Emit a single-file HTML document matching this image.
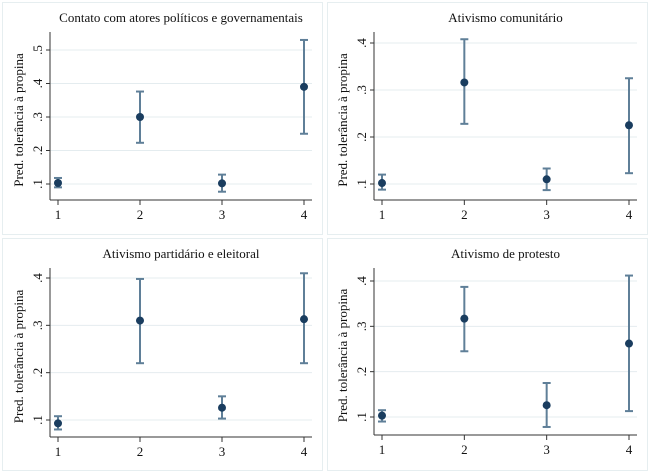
<!DOCTYPE html>
<html><head><meta charset="utf-8"><style>
body{margin:0;background:#fff}
svg{display:block;font-family:"Liberation Serif",serif}
</style></head><body>
<svg id="c" width="650" height="473"></svg>
<script>
const titles=["Contato com atores políticos e governamentais","Ativismo comunitário","Ativismo partidário e eleitoral","Ativismo de protesto"];
const categories=[1,2,3,4];
const est0=[0.103,0.300,0.102,0.390], lo0=[0.090,0.223,0.077,0.250], hi0=[0.118,0.376,0.128,0.530];
const est1=[0.102,0.316,0.110,0.225], lo1=[0.088,0.228,0.087,0.123], hi1=[0.120,0.408,0.133,0.325];
const est2=[0.093,0.310,0.126,0.313], lo2=[0.080,0.220,0.103,0.220], hi2=[0.108,0.398,0.150,0.410];
const est3=[0.103,0.317,0.126,0.262], lo3=[0.090,0.245,0.078,0.113], hi3=[0.115,0.387,0.175,0.412];
const ticks0=[0.1,0.2,0.3,0.4,0.5], ticks1=[0.1,0.2,0.3,0.4], ticks2=[0.1,0.2,0.3,0.4], ticks3=[0.1,0.2,0.3,0.4];
const ests=[est0,est1,est2,est3], los=[lo0,lo1,lo2,lo3], his=[hi0,hi1,hi2,hi3], tickss=[ticks0,ticks1,ticks2,ticks3];
// layout geometry
const L=[
 {ax:50,x1:58,x4:304,right:312,top:32,bottom:200,v0:0.1,p0:184,v1:0.5,p1:50,ty:22,bx:0,by:0},
 {ax:374,x1:382,x4:629,right:637,top:32,bottom:200,v0:0.1,p0:184,v1:0.4,p1:43,ty:22,bx:325,by:0},
 {ax:50,x1:58,x4:304,right:312,top:268,bottom:437,v0:0.1,p0:420,v1:0.4,p1:278,ty:258,bx:0,by:236},
 {ax:374,x1:382,x4:629,right:637,top:268,bottom:435,v0:0.1,p0:417,v1:0.4,p1:281,ty:258,bx:325,by:236}
];
const svg=document.getElementById('c');
const NS='http://www.w3.org/2000/svg';
function mk(t,a,p){const e=document.createElementNS(NS,t);for(const k in a)e.setAttribute(k,a[k]);(p||svg).appendChild(e);return e;}
L.forEach((g,i)=>{
 const grp=mk('g',{});
 
 
 const box=mk('rect',{x:g.bx+2.5,y:g.by+2.5,width:320,height:232,fill:'#fff',stroke:'#e6eef0','stroke-width':1},grp);
 
 
 const sx=c=>g.x1+(c-1)*(g.x4-g.x1)/3;
 const sy=v=>g.p0+(v-g.v0)*(g.p1-g.p0)/(g.v1-g.v0);
 const cx=(g.ax+g.right)/2;
 const t=mk('text',{x:cx,y:g.ty,'text-anchor':'middle','font-size':13,fill:'#111'},grp);t.textContent=titles[i];
 
 
 const yl=mk('text',{transform:`translate(${g.ax-27},${(g.top+g.bottom)/2+4}) rotate(-90)`,'text-anchor':'middle','font-size':13,fill:'#111'},grp);yl.textContent='Pred. tolerância à propina';
 
 
 tickss[i].forEach(v=>{
  const y=sy(v);
  const gl=mk('line',{x1:g.ax,x2:g.right,y1:y,y2:y,stroke:'#e4ecef','stroke-width':1},grp);
  
  
  mk('line',{x1:g.ax-4,x2:g.ax,y1:y,y2:y,stroke:'#333'},grp);
  const tl=mk('text',{transform:`translate(${g.ax-8},${y}) rotate(-90)`,'text-anchor':'middle','font-size':13,fill:'#111'},grp);
  tl.textContent=String(v.toFixed(1)).replace('0.','.');
  
  
 });
 const ya=mk('line',{x1:g.ax,x2:g.ax,y1:g.top,y2:g.bottom,stroke:'#333','stroke-width':1},grp);
 
 
 const xa=mk('line',{x1:g.ax,x2:g.right,y1:g.bottom,y2:g.bottom,stroke:'#333','stroke-width':1},grp);
 
 
 categories.forEach((c,j)=>{
  const x=sx(c);
  mk('line',{x1:x,x2:x,y1:g.bottom,y2:g.bottom+5,stroke:'#333'},grp);
  const xl=mk('text',{x:x,y:g.bottom+19,'text-anchor':'middle','font-size':13,fill:'#111'},grp);xl.textContent=c;
  
  
  const eb=mk('g',{stroke:'#5f7f98','stroke-width':2},grp);
  
  
  mk('line',{x1:x,x2:x,y1:sy(los[i][j]),y2:sy(his[i][j])},eb);
  mk('line',{x1:x-4,x2:x+4,y1:sy(los[i][j]),y2:sy(los[i][j])},eb);
  mk('line',{x1:x-4,x2:x+4,y1:sy(his[i][j]),y2:sy(his[i][j])},eb);
  const pt=mk('circle',{cx:x,cy:sy(ests[i][j]),r:4,fill:'#1a3d5f'},grp);
  
  
 });
});
</script>
</body></html>
